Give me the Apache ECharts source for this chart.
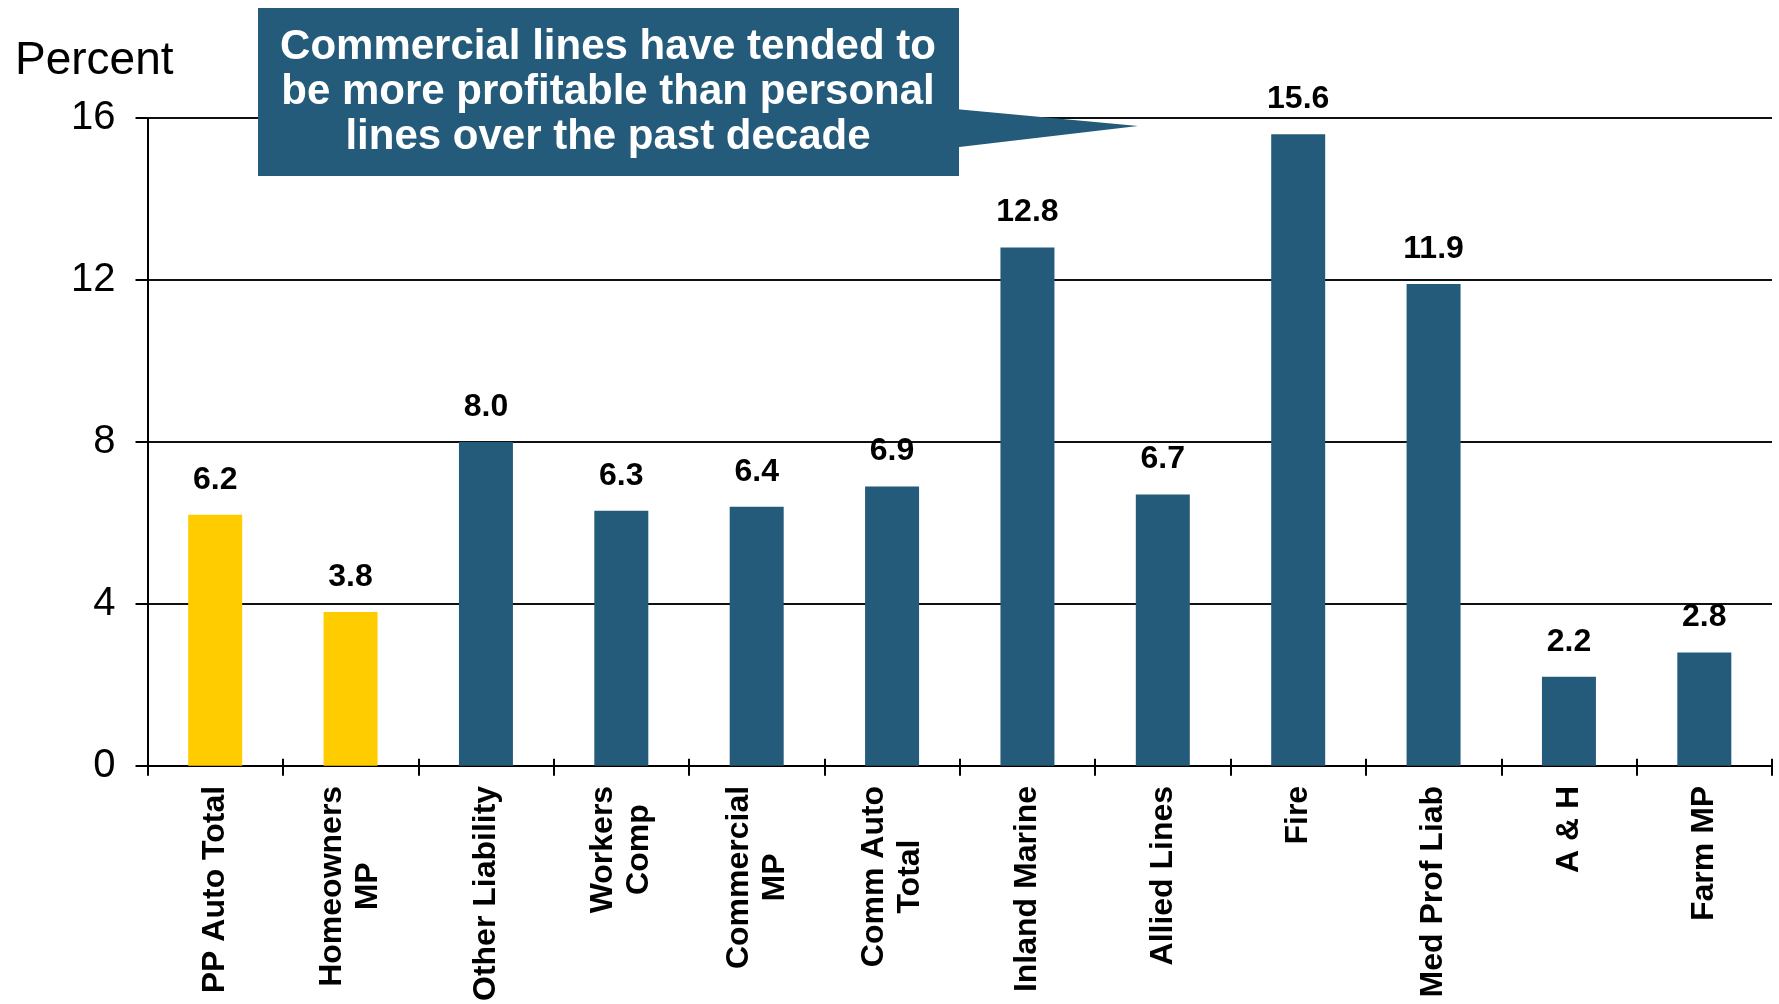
<!DOCTYPE html>
<html>
<head>
<meta charset="utf-8">
<script src="https://cdn.jsdelivr.net/npm/echarts@6/dist/echarts.min.js"></script>
<style>
  html, body { margin: 0; padding: 0; background: #fff; }
  #chart { width: 1779px; height: 1004px; }
</style>
</head>
<body>
<div id="chart"></div>
<script>
// ---- Data ----
const categories = [
  'PP Auto Total', 'Homeowners\nMP', 'Other Liability', 'Workers\nComp',
  'Commercial\nMP', 'Comm Auto\nTotal', 'Inland Marine', 'Allied Lines',
  'Fire', 'Med Prof Liab', 'A & H', 'Farm MP'
];
const values = [6.2, 3.8, 8.0, 6.3, 6.4, 6.9, 12.8, 6.7, 15.6, 11.9, 2.2, 2.8];
const personalLines = ['PP Auto Total', 'Homeowners\nMP'];
const yTicks = [0, 4, 8, 12, 16];
const calloutText = 'Commercial lines have tended to\nbe more profitable than personal\nlines over the past decade';

// ---- Styles ----
const BLUE = '#245B7A';
const YELLOW = '#FFCC00';
const FONT = '"Liberation Sans", Arial, sans-serif';

const chart = echarts.init(document.getElementById('chart'), null, { renderer: 'canvas' });

const option = {
  backgroundColor: '#ffffff',
  animation: false,
  title: {
    text: 'Percent',
    left: 10,
    top: 33,
    textStyle: { fontFamily: FONT, fontSize: 46, fontWeight: 'normal', color: '#000' }
  },
  grid: { left: 147.5, right: 7, top: 118, bottom: 236, containLabel: false },
  xAxis: [{
    type: 'category',
    data: categories,
    axisLine: { show: true, lineStyle: { color: '#000', width: 2 } },
    axisTick: { show: true, alignWithLabel: false, length: 10, lineStyle: { color: '#000', width: 2 } },
    axisLabel: {
      interval: 0,
      rotate: 90,
      margin: 20,
      color: '#000',
      fontFamily: FONT,
      fontSize: 32,
      fontWeight: 'bold',
      lineHeight: 36,
      formatter: function (v) {
        return v.split('\n').map(function (l) { return '{c|' + l + '}'; }).join('\n');
      },
      rich: {
        c: { align: 'center', fontFamily: FONT, fontSize: 32, fontWeight: 'bold', color: '#000', lineHeight: 36 }
      }
    }
  }, {
    type: 'category',
    data: categories,
    position: 'bottom',
    offset: 0,
    axisLine: { show: false },
    axisTick: { show: true, inside: true, length: 7, lineStyle: { color: '#000', width: 2 } },
    axisLabel: { show: false },
    splitLine: { show: false }
  }],
  yAxis: {
    type: 'value',
    min: yTicks[0],
    max: yTicks[yTicks.length - 1],
    interval: 4,
    axisLine: { show: true, lineStyle: { color: '#000', width: 2 } },
    axisTick: { show: true, length: 12, lineStyle: { color: '#000', width: 2 } },
    axisLabel: { margin: 32, color: '#000', fontFamily: FONT, fontSize: 40 },
    splitLine: { show: true, lineStyle: { color: '#111', width: 2 } }
  },
  series: [{
    type: 'bar',
    xAxisIndex: 0,
    barWidth: 54,
    data: values.map(function (v, i) {
      return {
        value: v,
        itemStyle: { color: personalLines.indexOf(categories[i]) >= 0 ? YELLOW : BLUE }
      };
    }),
    label: {
      show: true,
      position: 'top',
      distance: 19,
      color: '#000',
      fontFamily: FONT,
      fontSize: 32,
      fontWeight: 'bold',
      formatter: function (p) { return p.value.toFixed(1); }
    }
  }],
  graphic: [
    {
      type: 'polygon',
      z: 100,
      shape: { points: [[955, 109], [1138, 126], [955, 147.5]] },
      style: { fill: BLUE }
    },
    {
      type: 'rect',
      z: 100,
      shape: { x: 258, y: 8, width: 701, height: 168 },
      style: { fill: BLUE }
    },
    {
      type: 'text',
      z: 101,
      x: 608,
      y: 92,
      style: {
        text: calloutText,
        fill: '#fff',
        font: 'bold 42px ' + FONT,
        align: 'center',
        verticalAlign: 'middle',
        lineHeight: 45
      }
    }
  ]
};

chart.setOption(option);
</script>
</body>
</html>
